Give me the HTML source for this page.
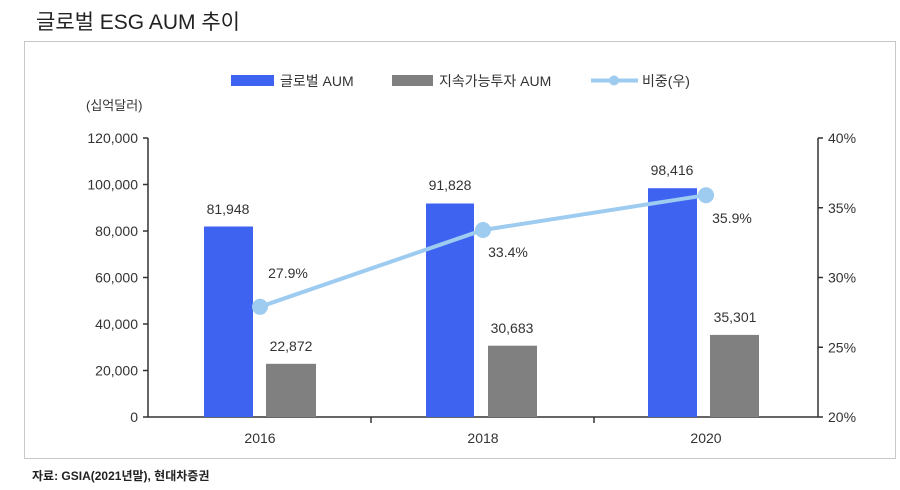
<!DOCTYPE html>
<html><head><meta charset="utf-8"><style>
body{margin:0;background:#fff;width:900px;height:485px;overflow:hidden;font-family:"Liberation Sans","Noto Sans CJK KR",sans-serif;}
</style></head><body>
<svg width="900" height="485" xmlns="http://www.w3.org/2000/svg" font-family="Liberation Sans, Noto Sans CJK KR, sans-serif" fill="#333">
<text x="36" y="29" font-size="21" fill="#222">글로벌 ESG AUM 추이</text>
<rect x="24.5" y="41.5" width="871" height="417" fill="none" stroke="#c8c8c8"/>
<rect x="231" y="75" width="43" height="11" fill="#3d63f0"/>
<text x="280" y="86" font-size="14">글로벌  AUM</text>
<rect x="392" y="75" width="41" height="11" fill="#808080"/>
<text x="439" y="86" font-size="14">지속가능투자  AUM</text>
<line x1="591" y1="80.5" x2="638" y2="80.5" stroke="#9ecbf0" stroke-width="4"/>
<circle cx="614" cy="80.5" r="5" fill="#9ecbf0"/>
<text x="642" y="86" font-size="14">비중(우)</text>
<text x="86" y="110" font-size="13">(십억달러)</text>
<g stroke="#333" stroke-width="1.5">
<line x1="148" y1="138" x2="148" y2="417"/>
<line x1="818" y1="138" x2="818" y2="417"/>
<line x1="148" y1="417" x2="818" y2="417"/>
<line x1="143" y1="138" x2="148" y2="138"/><line x1="143" y1="184.5" x2="148" y2="184.5"/><line x1="143" y1="231" x2="148" y2="231"/><line x1="143" y1="277.5" x2="148" y2="277.5"/><line x1="143" y1="324" x2="148" y2="324"/><line x1="143" y1="370.5" x2="148" y2="370.5"/><line x1="143" y1="417" x2="148" y2="417"/>
<line x1="818" y1="138" x2="823" y2="138"/><line x1="818" y1="207.75" x2="823" y2="207.75"/><line x1="818" y1="277.5" x2="823" y2="277.5"/><line x1="818" y1="347.25" x2="823" y2="347.25"/><line x1="818" y1="417" x2="823" y2="417"/>
<line x1="371" y1="417" x2="371" y2="423"/><line x1="594" y1="417" x2="594" y2="423"/>
</g>
<g font-size="14" text-anchor="end">
<text x="138" y="143">120,000</text><text x="138" y="189.5">100,000</text><text x="138" y="236">80,000</text><text x="138" y="282.5">60,000</text><text x="138" y="329">40,000</text><text x="138" y="375.5">20,000</text><text x="138" y="422">0</text>
</g>
<g font-size="14">
<text x="828" y="143">40%</text><text x="828" y="212.75">35%</text><text x="828" y="282.5">30%</text><text x="828" y="352.25">25%</text><text x="828" y="422">20%</text>
</g>
<g font-size="14" text-anchor="middle">
<text x="260" y="443">2016</text><text x="483" y="443">2018</text><text x="706" y="443">2020</text>
</g>
<rect x="204" y="226.5" width="49" height="190.5" fill="#3d63f0"/>
<rect x="266" y="363.8" width="50" height="53.2" fill="#808080"/>
<rect x="426" y="203.5" width="48" height="213.5" fill="#3d63f0"/>
<rect x="488" y="345.7" width="49" height="71.3" fill="#808080"/>
<rect x="648" y="188.2" width="49" height="228.8" fill="#3d63f0"/>
<rect x="710" y="334.9" width="49" height="82.1" fill="#808080"/>
<g font-size="14" text-anchor="middle">
<text x="228" y="214">81,948</text><text x="291" y="351">22,872</text>
<text x="450" y="190">91,828</text><text x="512" y="333">30,683</text>
<text x="672" y="175">98,416</text><text x="735" y="322">35,301</text>
</g>
<polyline points="260,306.8 483,230 706,195.2" fill="none" stroke="#9ecbf0" stroke-width="4"/>
<circle cx="260" cy="306.8" r="8" fill="#9ecbf0"/><circle cx="483" cy="230" r="8" fill="#9ecbf0"/><circle cx="706" cy="195.2" r="8" fill="#9ecbf0"/>
<g font-size="14" text-anchor="middle">
<text x="288" y="278">27.9%</text><text x="508" y="257">33.4%</text><text x="732" y="223">35.9%</text>
</g>
<text x="32" y="480" font-size="12" font-weight="bold" fill="#222">자료: GSIA(2021년말), 현대차증권</text>
</svg>
</body></html>
